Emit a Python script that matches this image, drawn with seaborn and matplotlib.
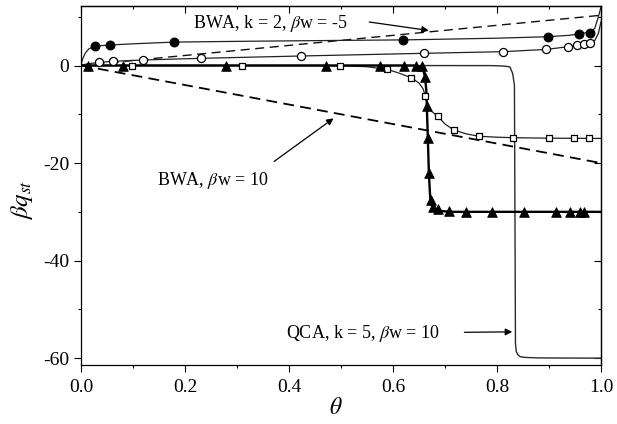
import matplotlib
matplotlib.use("Agg")
import matplotlib.pyplot as plt
import seaborn as sns
from matplotlib.ticker import MultipleLocator, FormatStrFormatter

# ---------------- data ----------------
# BWA, k = 2, beta w = -5 : filled circles + curve
fc_theta = [0.027, 0.056, 0.179, 0.62, 0.898, 0.958, 0.978]
fc_q = [4.0, 4.2, 4.8, 5.2, 5.9, 6.5, 6.7]
fc_line_theta = [0.0, 0.003, 0.008, 0.015, 0.027, 0.056, 0.1, 0.179, 0.3, 0.4,
                 0.5, 0.62, 0.7, 0.8, 0.898, 0.94, 0.958, 0.978, 0.988, 0.995, 1.0]
fc_line_q = [0.0, 1.3, 2.5, 3.4, 4.0, 4.2, 4.45, 4.8, 4.95, 5.05,
             5.15, 5.25, 5.4, 5.6, 5.9, 6.2, 6.5, 6.8, 7.6, 10.0, 12.0]

# open circles + curve
oc_theta = [0.035, 0.062, 0.119, 0.23, 0.4225, 0.66, 0.812, 0.895, 0.937, 0.954, 0.968, 0.978]
oc_q = [0.65, 0.86, 1.13, 1.47, 1.95, 2.5, 2.84, 3.3, 3.86, 4.2, 4.4, 4.55]
oc_line_theta = [0.0, 0.01, 0.035, 0.062, 0.119, 0.23, 0.4225, 0.66, 0.812, 0.895,
                 0.937, 0.954, 0.968, 0.978, 0.988, 0.995, 1.0]
oc_line_q = [0.0, 0.3, 0.65, 0.86, 1.13, 1.47, 1.95, 2.5, 2.84, 3.3,
             3.86, 4.2, 4.4, 4.55, 5.1, 6.6, 9.0]

# open squares + curve
sq_theta = [0.099, 0.309, 0.498, 0.589, 0.635, 0.662, 0.686, 0.717, 0.765, 0.831, 0.9, 0.948, 0.977]
sq_q = [0.0, 0.0, 0.0, -0.8, -2.5, -6.2, -10.4, -13.2, -14.5, -14.8, -14.9, -14.95, -14.95]
sq_line_theta = [0.0, 0.45, 0.5, 0.55, 0.589, 0.61, 0.635, 0.65, 0.658, 0.662, 0.666,
                 0.672, 0.686, 0.70, 0.717, 0.74, 0.765, 0.8, 0.831, 0.9, 1.0]
sq_line_q = [0.0, 0.0, -0.05, -0.25, -0.8, -1.5, -2.5, -3.6, -4.8, -6.2, -8.0,
             -9.2, -10.4, -12.0, -13.2, -14.0, -14.5, -14.7, -14.8, -14.9, -14.95]

# filled triangles + thick curve
tr_theta = [0.014, 0.081, 0.278, 0.472, 0.575, 0.622, 0.644, 0.655, 0.6615, 0.665, 0.667,
            0.669, 0.6725, 0.676, 0.687, 0.708, 0.74, 0.79, 0.852, 0.913, 0.94, 0.96, 0.967]
tr_q = [0, 0, 0, 0, 0, 0, 0, 0, -2.3, -8.2, -14.9,
        -22.1, -27.6, -29.0, -29.5, -29.8, -30, -30, -30, -30, -30, -30, -30]
tr_line_theta = [0.0, 0.64, 0.652, 0.658, 0.6615, 0.664, 0.665, 0.667, 0.669, 0.6715,
                 0.674, 0.68, 0.69, 0.71, 1.0]
tr_line_q = [0.0, 0.0, -0.2, -0.8, -2.3, -5.0, -8.2, -14.9, -22.1, -27.0,
             -28.6, -29.4, -29.8, -30.0, -30.0]

# QCA, k = 5, beta w = 10
qca_theta = [0.0, 0.5, 0.79, 0.81, 0.82, 0.825, 0.83, 0.8335, 0.8345, 0.8355,
             0.837, 0.84, 0.845, 0.855, 0.88, 1.0]
qca_q = [0.0, 0.0, -0.02, -0.1, -0.2, -0.3, -1.6, -4.0, -30.0, -57.0,
         -58.6, -59.3, -59.7, -59.85, -59.95, -60.0]

# dashed BWA lines
bwa5_theta = [0.0, 1.0]
bwa5_q = [0.0, 10.3]
bwa10_theta = [0.0, 1.0]
bwa10_q = [0.0, -20.0]

# annotation texts
txt_bwa5 = r"BWA, k = 2, $\beta$w = -5"
txt_bwa10 = r"BWA, $\beta$w = 10"
txt_qca = r"QCA, k = 5, $\beta$w = 10"

# ---------------- style ----------------
sns.set_theme(style="ticks")
plt.rcParams["font.family"] = ["Liberation Serif", "DejaVu Serif"]
plt.rcParams["mathtext.fontset"] = "stix"
plt.rcParams["axes.unicode_minus"] = False
for k in ["text.color", "axes.labelcolor", "xtick.color", "ytick.color", "axes.edgecolor"]:
    plt.rcParams[k] = "black"

fig = plt.figure(figsize=(6.17, 4.24), dpi=100)
ax = fig.add_axes([81 / 617, 1 - 365 / 424, 520 / 617, 359 / 424])

# curves
sns.lineplot(x=bwa5_theta, y=bwa5_q, ax=ax, color="#111111", lw=1.0,
             linestyle=(0, (6.5, 4)), estimator=None, zorder=2)
sns.lineplot(x=bwa10_theta, y=bwa10_q, ax=ax, color="black", lw=1.3,
             linestyle=(0, (6, 3.5)), estimator=None, zorder=2)
sns.lineplot(x=qca_theta, y=qca_q, ax=ax, color="#2a2a2a", lw=1.0, estimator=None, zorder=2)
sns.lineplot(x=fc_line_theta, y=fc_line_q, ax=ax, color="#222222", lw=0.9, estimator=None, zorder=2)
sns.lineplot(x=oc_line_theta, y=oc_line_q, ax=ax, color="#222222", lw=0.9, estimator=None, zorder=2)
sns.lineplot(x=sq_line_theta, y=sq_line_q, ax=ax, color="#222222", lw=0.9, estimator=None, zorder=2)
sns.lineplot(x=tr_line_theta, y=tr_line_q, ax=ax, color="black", lw=1.7, estimator=None, zorder=2)

# markers
sns.scatterplot(x=fc_theta, y=fc_q, ax=ax, marker="o", s=40, color="black",
                edgecolor="black", linewidth=0.8, zorder=4)
sns.scatterplot(x=oc_theta, y=oc_q, ax=ax, marker="o", s=34, color="white",
                edgecolor="black", linewidth=0.9, zorder=4)
sns.scatterplot(x=sq_theta, y=sq_q, ax=ax, marker="s", s=22, color="white",
                edgecolor="black", linewidth=0.9, zorder=4)
sns.scatterplot(x=tr_theta, y=tr_q, ax=ax, marker="^", s=48, color="black",
                edgecolor="black", linewidth=0.6, zorder=5)

# annotations
ax.text(0.215, 8.7, txt_bwa5, ha="left", va="center", fontsize=13)
ax.annotate("", xy=(0.674, 7.1), xytext=(0.549, 9.0),
            arrowprops=dict(arrowstyle="-|>", color="black", lw=0.9, mutation_scale=10))
ax.text(0.36, -23.5, txt_bwa10, ha="right", va="center", fontsize=13)
ax.annotate("", xy=(0.49, -10.5), xytext=(0.367, -20.0),
            arrowprops=dict(arrowstyle="-|>", color="black", lw=0.9, mutation_scale=10))
ax.text(0.69, -54.9, txt_qca, ha="right", va="center", fontsize=13)
ax.annotate("", xy=(0.8346, -54.6), xytext=(0.732, -54.7),
            arrowprops=dict(arrowstyle="-|>", color="black", lw=0.9, mutation_scale=10))

# axes
ax.set_xlim(0, 1)
ax.set_ylim(-61.4, 12.2)
ax.xaxis.set_major_locator(MultipleLocator(0.2))
ax.xaxis.set_minor_locator(MultipleLocator(0.1))
ax.yaxis.set_major_locator(MultipleLocator(20))
ax.yaxis.set_minor_locator(MultipleLocator(10))
ax.xaxis.set_major_formatter(FormatStrFormatter("%.1f"))
ax.yaxis.set_major_formatter(FormatStrFormatter("%d"))
ax.tick_params(which="major", direction="out", length=5, width=0.8, labelsize=14,
               top=False, right=False)
ax.tick_params(axis="x", which="major", pad=5)
ax.tick_params(which="minor", direction="out", length=2.5, width=0.8, top=False, right=False)
for sp in ax.spines.values():
    sp.set_visible(True)
    sp.set_linewidth(0.9)

secx = ax.secondary_xaxis("top")
secx.xaxis.set_major_locator(MultipleLocator(0.2))
secx.xaxis.set_minor_locator(MultipleLocator(0.1))
secx.tick_params(which="major", direction="in", length=5, width=0.8, labeltop=False)
secx.tick_params(which="minor", direction="in", length=2.5, width=0.8)
secx.spines["top"].set_linewidth(0.9)
secy = ax.secondary_yaxis("right")
secy.yaxis.set_major_locator(MultipleLocator(20))
secy.yaxis.set_minor_locator(MultipleLocator(10))
secy.tick_params(which="major", direction="in", length=5, width=0.8, labelright=False)
secy.tick_params(which="minor", direction="in", length=2.5, width=0.8)
secy.spines["right"].set_linewidth(0.9)

ax.set_xlabel(r"$\theta$", fontsize=17)
ax.set_ylabel(r"$\beta q_{st}$", fontsize=18)
ax.xaxis.set_label_coords(0.49, -0.093)
ax.yaxis.set_label_coords(-0.088, 0.46)

fig.savefig("out.png", dpi=100)
